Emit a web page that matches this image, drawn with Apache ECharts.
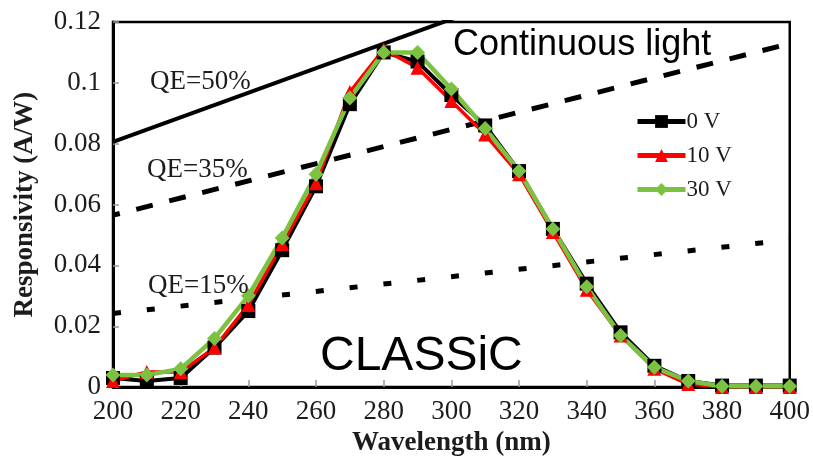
<!DOCTYPE html>
<html>
<head>
<meta charset="utf-8">
<script src="https://cdn.jsdelivr.net/npm/echarts@6/dist/echarts.min.js"></script>
<style>
  html, body { margin: 0; padding: 0; background: #fff; }
  #chart { width: 813px; height: 462px; }
</style>
</head>
<body>
<div id="chart"></div>
<script>
// Wavelength grid (nm)
const wavelength = [200, 210, 220, 230, 240, 250, 260, 270, 280, 290, 300,
                    310, 320, 330, 340, 350, 360, 370, 380, 390, 400];
// Responsivity (A/W) at each bias
const resp0V  = [0.003, 0.002, 0.003, 0.013, 0.025, 0.045, 0.066, 0.093, 0.110, 0.107, 0.096,
                 0.086, 0.071, 0.052, 0.034, 0.018, 0.007, 0.002, 0.0005, 0.0005, 0.0005];
const resp10V = [0.002, 0.005, 0.005, 0.013, 0.027, 0.047, 0.067, 0.097, 0.111, 0.105, 0.094,
                 0.083, 0.070, 0.051, 0.032, 0.017, 0.006, 0.001, 0.0, 0.0, 0.0];
const resp30V = [0.004, 0.004, 0.006, 0.016, 0.030, 0.049, 0.070, 0.095, 0.110, 0.110, 0.098,
                 0.085, 0.071, 0.052, 0.033, 0.017, 0.0065, 0.002, 0.0003, 0.0003, 0.0003];
// Constant-QE reference lines: responsivity at 200 nm and at 400 nm
const qeRange = [200, 400];
const qe50 = [0.0806, 0.1613];
const qe35 = [0.0565, 0.1129];
const qe15 = [0.0242, 0.0484];
// Axis ticks
const xTicks = { min: 200, max: 400, step: 20 };
const yTicks = { min: 0, max: 0.12, step: 0.02 };

const serif = '"Liberation Serif", "DejaVu Serif", serif';
const sans = '"Liberation Sans", Arial, sans-serif';
const ink = '#1c1c1c';

const pairs = (xs, ys) => xs.map((x, i) => [x, ys[i]]);

const chart = echarts.init(document.getElementById('chart'));

function dataSeries(name, values, color, symbol, size, width) {
  return {
    name: name,
    type: 'line',
    data: pairs(wavelength, values),
    symbol: symbol,
    symbolSize: size,
    showAllSymbol: true,
    lineStyle: { color: color, width: width },
    itemStyle: { color: color },
    emphasis: { disabled: true },
    animation: false,
    z: 5
  };
}

function qeSeries(name, ends, dash, offset, width) {
  return {
    name: name,
    type: 'line',
    data: pairs(qeRange, ends),
    symbol: 'none',
    lineStyle: { color: '#000', width: width, type: dash, dashOffset: offset, cap: 'butt' },
    emphasis: { disabled: true },
    animation: false,
    z: 3
  };
}

function label(text, x, y, font, color) {
  return {
    type: 'text', x: x, y: y, z: 10,
    style: { text: text, font: font, fill: color, verticalAlign: 'middle', align: 'left' }
  };
}

chart.setOption({
  backgroundColor: '#fff',
  animation: false,
  grid: {
    left: 113, top: 22, right: 23, bottom: 72,
    show: true, borderColor: '#000', borderWidth: 2.5, backgroundColor: 'transparent'
  },
  xAxis: {
    type: 'value',
    min: xTicks.min, max: xTicks.max, interval: xTicks.step,
    name: 'Wavelength (nm)',
    nameLocation: 'middle',
    nameGap: 40,
    nameTextStyle: { fontFamily: serif, fontWeight: 'bold', fontSize: 27, color: ink },
    axisLine: { onZero: false, lineStyle: { color: '#000', width: 3 } },
    axisTick: { inside: true, length: 7, lineStyle: { color: '#999', width: 1.5 } },
    axisLabel: { fontFamily: serif, fontSize: 27, color: ink, margin: 11 },
    splitLine: { show: false }
  },
  yAxis: {
    type: 'value',
    min: yTicks.min, max: yTicks.max, interval: yTicks.step,
    name: 'Responsivity (A/W)',
    nameLocation: 'middle',
    nameGap: 74,
    nameRotate: 90,
    nameTextStyle: { fontFamily: serif, fontWeight: 'bold', fontSize: 27, color: ink },
    axisLine: { show: true, lineStyle: { color: '#000', width: 3 } },
    axisTick: { show: true, inside: true, length: 6, lineStyle: { color: '#999', width: 1.5 } },
    axisLabel: { fontFamily: serif, fontSize: 27, color: ink, margin: 12 },
    splitLine: { show: false }
  },
  legend: {
    data: ['0 V', '10 V', '30 V'],
    orient: 'vertical',
    left: 630,
    top: 105,
    itemWidth: 48,
    itemHeight: 16,
    itemGap: 11,
    lineStyle: { width: 5 },
    textStyle: { fontFamily: serif, fontSize: 23, color: ink, padding: [0, 0, 0, -4] },
    selectedMode: false
  },
  series: [
    qeSeries('QE=50%', qe50, 'solid', 0, 4),
    qeSeries('QE=35%', qe35, [17, 17], 10, 5),
    qeSeries('QE=15%', qe15, [8, 26], 0, 5),
    dataSeries('0 V', resp0V, '#000000', 'rect', 14, 4),
    dataSeries('10 V', resp10V, '#ff0000', 'triangle', 14, 3.5),
    dataSeries('30 V', resp30V, '#7cc242', 'diamond', 15, 4.5)
  ],
  graphic: [
    label('QE=50%', 150, 82, '27px ' + serif, ink),
    label('QE=35%', 147, 170, '27px ' + serif, ink),
    label('QE=15%', 148, 286, '27px ' + serif, ink),
    label('Continuous light', 453, 45, '36px ' + sans, '#000'),
    label('CLASSiC', 320, 357, '48px ' + sans, '#000')
  ]
});
</script>
</body>
</html>
